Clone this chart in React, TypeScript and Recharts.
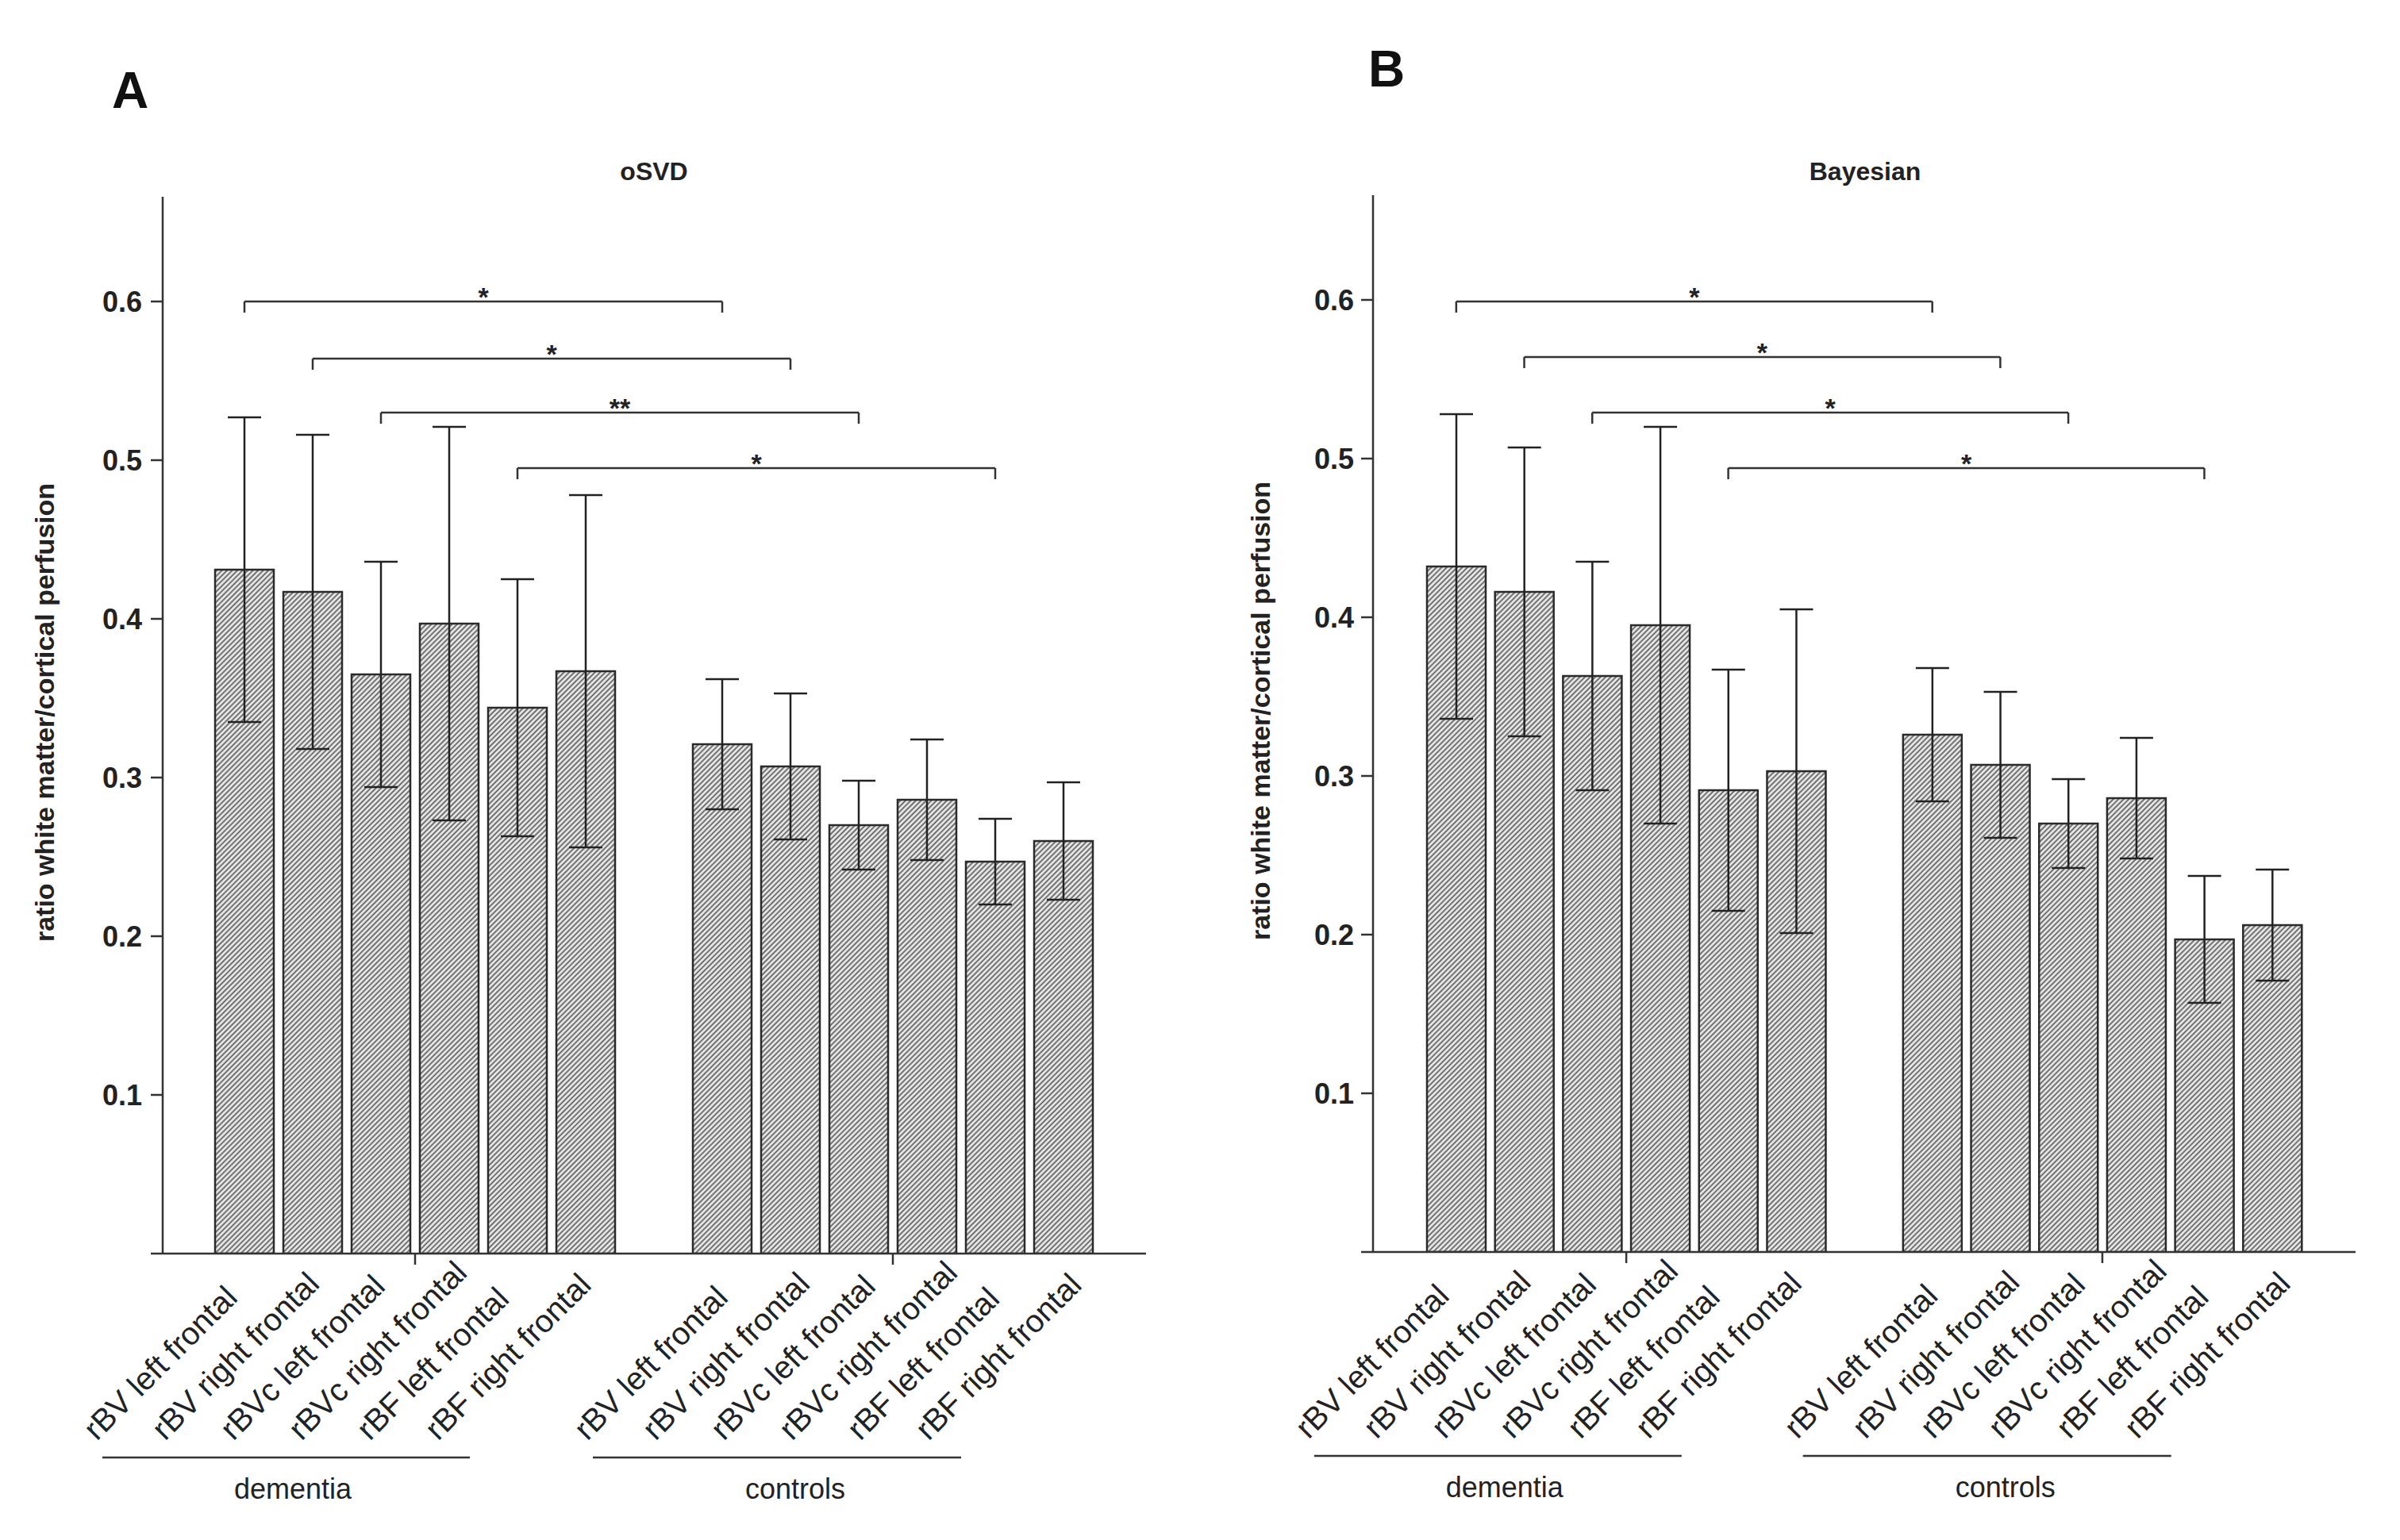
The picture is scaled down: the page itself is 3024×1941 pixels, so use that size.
import React from "react";
import { BarChart, Bar, XAxis, YAxis, ErrorBar, ReferenceLine } from "recharts";

const W = 3024;
const H = 1941;
const FONT = "'Liberation Sans', Arial, Helvetica, sans-serif";
const INK = "#222";

const regions = [
  "rBV left frontal",
  "rBV right frontal",
  "rBVc left frontal",
  "rBVc right frontal",
  "rBF left frontal",
  "rBF right frontal",
];
const groups = ["dementia", "controls"];
const yTicks = [0, 0.1, 0.2, 0.3, 0.4, 0.5, 0.6];

// panel A - oSVD
const osvdDementiaMean = [0.431, 0.417, 0.365, 0.397, 0.344, 0.367];
const osvdDementiaSd = [0.096, 0.099, 0.071, 0.124, 0.081, 0.111];
const osvdControlsMean = [0.321, 0.307, 0.27, 0.286, 0.247, 0.26];
const osvdControlsSd = [0.041, 0.046, 0.028, 0.038, 0.027, 0.037];

// panel B - Bayesian
const bayesDementiaMean = [0.432, 0.416, 0.363, 0.395, 0.291, 0.303];
const bayesDementiaSd = [0.096, 0.091, 0.072, 0.125, 0.076, 0.102];
const bayesControlsMean = [0.326, 0.307, 0.27, 0.286, 0.197, 0.206];
const bayesControlsSd = [0.042, 0.046, 0.028, 0.038, 0.04, 0.035];

// brackets: dementia region vs the same region in controls
const osvdBrackets = [
  { region: 0, y: 0.6, mark: "*" },
  { region: 1, y: 0.564, mark: "*" },
  { region: 2, y: 0.53, mark: "**" },
  { region: 4, y: 0.495, mark: "*" },
];
const bayesBrackets = [
  { region: 0, y: 0.599, mark: "*" },
  { region: 1, y: 0.564, mark: "*" },
  { region: 2, y: 0.529, mark: "*" },
  { region: 4, y: 0.494, mark: "*" },
];

const buildRows = (dm: number[], ds: number[], cm: number[], cs: number[]) => [
  ...regions.map((r, i) => ({ key: `d${i}`, region: r, mean: dm[i], err: ds[i] })),
  { key: "gap", region: "" },
  ...regions.map((r, i) => ({ key: `c${i}`, region: r, mean: cm[i], err: cs[i] })),
];

const osvdRows = buildRows(osvdDementiaMean, osvdDementiaSd, osvdControlsMean, osvdControlsSd);
const bayesRows = buildRows(bayesDementiaMean, bayesDementiaSd, bayesControlsMean, bayesControlsSd);

const axisStyle = { stroke: "#333", strokeWidth: 2.5 };

// label / underline offsets per group, relative to the first bar of the group
const groupDecor = [
  { labelShift: -186, lineFrom: -179, lineTo: 284, text: 61 },
  { labelShift: -170, lineFrom: -163, lineTo: 301, text: 92 },
];

const makeTick = (slot: number) => (props: any) => {
  const { x, y, payload } = props;
  const key: string = payload?.value ?? "";
  if (key === "gap" || !key) return <g />;
  const g = key[0] === "d" ? 0 : 1;
  const idx = Number(key.slice(1));
  const d = groupDecor[g];
  const lx = x + d.labelShift;
  const ly = y + 237;
  return (
    <g>
      <text
        x={lx}
        y={ly}
        transform={`rotate(-45 ${lx} ${ly})`}
        textAnchor="start"
        fontSize={40}
        fontFamily={FONT}
        fill={INK}
      >
        {regions[idx]}
      </text>
      {idx === 3 && (
        <line x1={x - slot / 2} x2={x - slot / 2} y1={y} y2={y + 14} stroke="#333" strokeWidth={2.5} />
      )}
      {idx === 0 && (
        <g>
          <line x1={x + d.lineFrom} x2={x + d.lineTo} y1={y + 257} y2={y + 257} stroke="#333" strokeWidth={2.5} />
          <text x={x + d.text} y={y + 309} textAnchor="middle" fontSize={36} fontFamily={FONT} fill={INK}>
            {groups[g]}
          </text>
        </g>
      )}
    </g>
  );
};

const starLabel = (mark: string) => (props: any) => {
  const vb = props?.viewBox;
  if (!vb) return null;
  const cx = vb.x + (vb.width ?? 0) / 2;
  return (
    <text x={cx} y={vb.y + 6} textAnchor="middle" fontSize={34} fontWeight="bold" fontFamily={FONT} fill={INK}>
      {mark}
    </text>
  );
};

type Cfg = {
  left: number;
  boxLeft: number;
  boxRight: number;
  top: number;
  bottom: number;
  padL: number;
  padR: number;
  slot: number;
  tickMargin: number;
};

const cfgA: Cfg = { left: 0, boxLeft: 205, boxRight: 1444, top: 248, bottom: 1580, padL: 60, padR: 61, slot: 86, tickMargin: 11 };
const cfgB: Cfg = { left: 1520, boxLeft: 1730, boxRight: 2968, top: 246, bottom: 1578, padL: 62, padR: 62, slot: 85.65, tickMargin: 9 };

function Panel({ cfg, rows, brackets }: { cfg: Cfg; rows: any[]; brackets: typeof osvdBrackets }) {
  const width = cfg.boxRight - cfg.left + 16;
  const drop = 0.007;
  return (
    <div style={{ position: "absolute", left: cfg.left, top: 0 }}>
      <BarChart
        width={width}
        height={H}
        data={rows}
        margin={{ top: cfg.top, right: 16, bottom: 0, left: 0 }}
        barSize={74}
      >
        <XAxis
          dataKey="key"
          interval={0}
          height={H - cfg.bottom}
          padding={{ left: cfg.padL, right: cfg.padR }}
          tickLine={false}
          tickSize={0}
          tickMargin={0}
          axisLine={axisStyle}
          tick={makeTick(cfg.slot)}
        />
        <XAxis xAxisId="top" orientation="top" dataKey="key" height={0} tick={false} tickLine={false} axisLine={axisStyle} />
        <YAxis
          domain={[0, 0.666]}
          allowDataOverflow
          ticks={yTicks}
          interval={0}
          width={cfg.boxLeft - cfg.left}
          tickSize={15}
          tickMargin={cfg.tickMargin}
          tickLine={axisStyle}
          axisLine={axisStyle}
          tickFormatter={(v: number) => (v === 0 ? "" : v.toFixed(1))}
          tick={{ fontSize: 36, fontWeight: "bold", fontFamily: FONT, fill: INK }}
        />
        <YAxis yAxisId="right" orientation="right" width={0} tick={false} tickLine={false} axisLine={axisStyle} />
        <Bar dataKey="mean" fill="url(#hatch)" stroke="#2a2a2a" strokeWidth={2.5} isAnimationActive={false}>
          <ErrorBar dataKey="err" width={21} stroke={INK} strokeWidth={2.5} />
        </Bar>
        {brackets.map((b) => (
          <ReferenceLine
            key={`h${b.region}`}
            segment={[
              { x: `d${b.region}`, y: b.y },
              { x: `c${b.region}`, y: b.y },
            ]}
            stroke="#333"
            strokeWidth={2.5}
            label={starLabel(b.mark)}
          />
        ))}
        {brackets.map((b) => (
          <ReferenceLine
            key={`l${b.region}`}
            segment={[
              { x: `d${b.region}`, y: b.y },
              { x: `d${b.region}`, y: b.y - drop },
            ]}
            stroke="#333"
            strokeWidth={2.5}
          />
        ))}
        {brackets.map((b) => (
          <ReferenceLine
            key={`r${b.region}`}
            segment={[
              { x: `c${b.region}`, y: b.y },
              { x: `c${b.region}`, y: b.y - drop },
            ]}
            stroke="#333"
            strokeWidth={2.5}
          />
        ))}
      </BarChart>
    </div>
  );
}

export default function App() {
  return (
    <div style={{ position: "absolute", left: 0, top: 0, width: W, height: H, background: "#fff", fontFamily: FONT }}>
      <svg width={W} height={H} style={{ position: "absolute", left: 0, top: 0 }}>
        <defs>
          <pattern id="hatch" patternUnits="userSpaceOnUse" width={4.6} height={4.6} patternTransform="rotate(45)">
            <rect width={4.6} height={4.6} fill="#ececec" />
            <line x1={2.3} y1={0} x2={2.3} y2={4.6} stroke="#555" strokeWidth={1.7} />
          </pattern>
        </defs>
        <text x={141} y={136} fontSize={64} fontWeight="bold" fill="#111">A</text>
        <text x={1724} y={109} fontSize={64} fontWeight="bold" fill="#111">B</text>
        <text x={824} y={227} textAnchor="middle" fontSize={32} fontWeight="bold" fill={INK}>oSVD</text>
        <text x={2350} y={227} textAnchor="middle" fontSize={32} fontWeight="bold" fill={INK}>Bayesian</text>
        <text x={56} y={898} transform="rotate(-90 56 898)" textAnchor="middle" dominantBaseline="central" fontSize={34} fontWeight="bold" fill={INK}>
          ratio white matter/cortical perfusion
        </text>
        <text x={1588} y={896} transform="rotate(-90 1588 896)" textAnchor="middle" dominantBaseline="central" fontSize={34} fontWeight="bold" fill={INK}>
          ratio white matter/cortical perfusion
        </text>
      </svg>
      <Panel cfg={cfgA} rows={osvdRows} brackets={osvdBrackets} />
      <Panel cfg={cfgB} rows={bayesRows} brackets={bayesBrackets} />
    </div>
  );
}
